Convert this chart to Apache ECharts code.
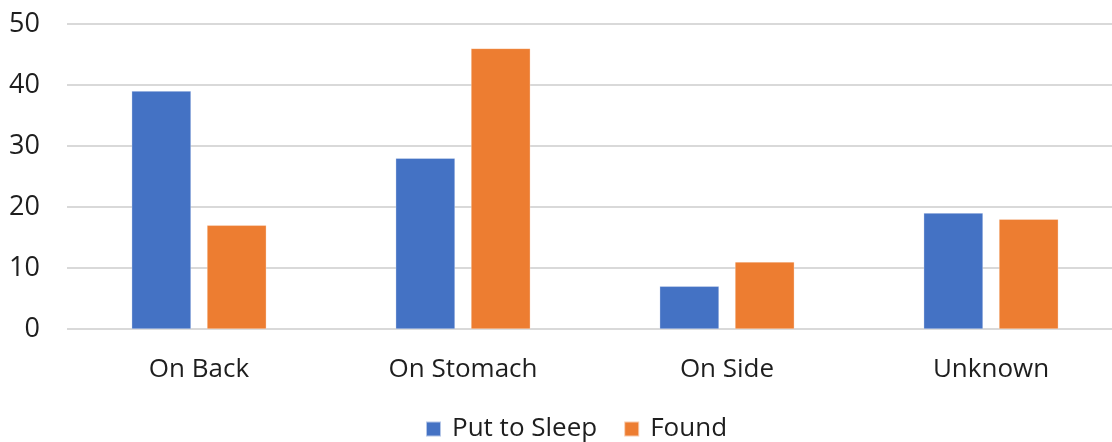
<!DOCTYPE html>
<html><head><meta charset="utf-8">
<script src="https://cdn.jsdelivr.net/npm/echarts@6/dist/echarts.min.js"></script>
<style>html,body{margin:0;padding:0;background:#fff;overflow:hidden}#c{width:1123px;height:442px}</style>
</head><body><div id="c"></div>
<script>
const categories = ["On Back", "On Stomach", "On Side", "Unknown"];
const putToSleep = [39, 28, 7, 19];
const found = [17, 46, 11, 18];
const yTicks = [0, 10, 20, 30, 40, 50];

const FONT = "Open Sans";
const TXT = '#1e1e1e';
const chart = echarts.init(document.getElementById('c'), null, {renderer: 'canvas'});
chart.setOption({
  animation: false,
  textStyle: {fontFamily: FONT},
  grid: {left: 67, right: 0, top: 24, bottom: 113, containLabel: false},
  legend: {
    bottom: -5, left: 420, itemWidth: 15, itemHeight: 15, itemGap: 26,
    icon: 'rect',
    textStyle: {fontFamily: FONT, fontSize: 26, color: TXT, padding: [0, 0, 0, 6]},
    data: ['Put to Sleep', 'Found']
  },
  xAxis: {
    type: 'category', data: categories,
    axisLine: {show: false}, axisTick: {show: false},
    axisLabel: {fontFamily: FONT, fontSize: 26, color: TXT, margin: 28}
  },
  yAxis: {
    type: 'value', min: yTicks[0], max: yTicks[yTicks.length - 1], interval: 10,
    axisLine: {show: false}, axisTick: {show: false},
    axisLabel: {fontFamily: FONT, fontSize: 27, color: TXT, margin: 27},
    splitLine: {lineStyle: {color: '#d9d9d9', width: 2}}
  },
  series: [
    {name: 'Put to Sleep', type: 'bar', data: putToSleep, barGap: '27%', barCategoryGap: '49%',
     itemStyle: {color: '#4472C4', borderColor: 'rgba(255,255,255,0.6)', borderWidth: 0.5}},
    {name: 'Found', type: 'bar', data: found,
     itemStyle: {color: '#ED7D31', borderColor: 'rgba(255,255,255,0.6)', borderWidth: 0.5}}
  ]
});
</script></body></html>
